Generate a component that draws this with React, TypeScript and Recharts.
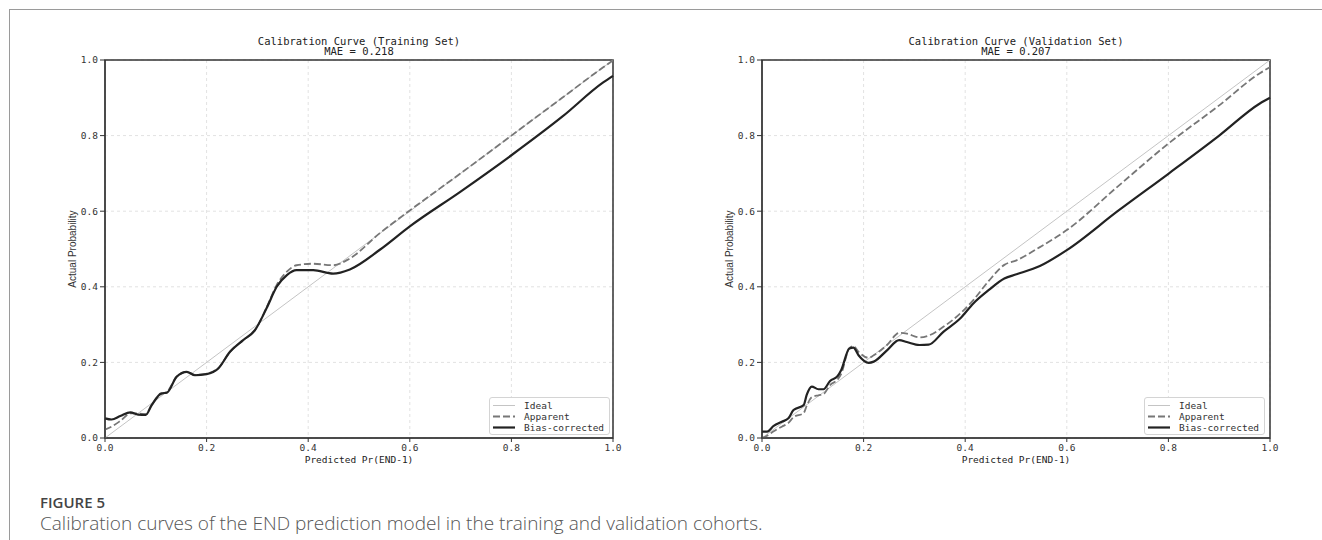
import React from "react";

import { CartesianGrid, Legend, Line, LineChart, ReferenceArea, XAxis, YAxis } from "recharts";

// axis ticks shared by both panels
const ticks = [0, 0.2, 0.4, 0.6, 0.8, 1.0];

// training set
const trainX = [
  0, 0.013, 0.03, 0.05, 0.065, 0.08, 0.092, 0.111, 0.122, 0.141, 0.161, 0.177, 0.2, 0.223, 0.246, 0.272,
  0.295, 0.318, 0.338, 0.358, 0.377, 0.41, 0.449, 0.482, 0.541, 0.6, 0.7, 0.8, 0.9, 0.98, 1.0,
];
const trainApparent = [
  0.022, 0.03, 0.045, 0.065, 0.065, 0.063, 0.088, 0.116, 0.122, 0.162, 0.175, 0.167, 0.17, 0.185, 0.228,
  0.259, 0.285, 0.345, 0.405, 0.44, 0.457, 0.461, 0.457, 0.475, 0.542, 0.602, 0.7, 0.8, 0.9, 0.98, 0.999,
];
const trainCorrected = [
  0.052, 0.049, 0.058, 0.068, 0.062, 0.061, 0.087, 0.118, 0.12, 0.162, 0.175, 0.166, 0.169, 0.184, 0.228,
  0.259, 0.285, 0.343, 0.4, 0.431, 0.444, 0.444, 0.435, 0.446, 0.498, 0.56, 0.652, 0.748, 0.85, 0.94, 0.958,
];

// validation set
const valX = [
  0, 0.01, 0.023, 0.039, 0.052, 0.062, 0.082, 0.088, 0.098, 0.111, 0.121, 0.134, 0.149, 0.156, 0.172, 0.18,
  0.19, 0.21, 0.22, 0.246, 0.27, 0.285, 0.31, 0.328, 0.357, 0.39, 0.416, 0.446, 0.477, 0.501, 0.547, 0.6,
  0.7, 0.8, 0.9, 0.98, 1.0,
];
const valApparent = [
  0.0, 0.006, 0.018, 0.03, 0.04, 0.055, 0.066, 0.085, 0.108, 0.113, 0.116, 0.14, 0.155, 0.17, 0.238, 0.243,
  0.228, 0.212, 0.219, 0.246, 0.278, 0.276, 0.266, 0.271, 0.294, 0.329, 0.365, 0.415, 0.458, 0.47, 0.505,
  0.55, 0.665, 0.779, 0.88, 0.965, 0.981,
];
const valCorrected = [
  0.017, 0.017, 0.032, 0.043, 0.052, 0.074, 0.087, 0.114, 0.136, 0.129, 0.129, 0.151, 0.164, 0.18, 0.237,
  0.239, 0.219, 0.199, 0.202, 0.232, 0.259, 0.254, 0.246, 0.247, 0.281, 0.316, 0.356, 0.391, 0.422, 0.433,
  0.455, 0.497, 0.6, 0.699, 0.8, 0.885, 0.9,
];

const idealRows = [
  { x: 0, ideal: 0 },
  { x: 1, ideal: 1 },
];

const legendItems = [
  { name: "Ideal", color: "#c4c4c4", width: 1, dash: undefined },
  { name: "Apparent", color: "#777", width: 1.8, dash: "7 3" },
  { name: "Bias-corrected", color: "#222", width: 2.2, dash: undefined },
];

const MONO = "'DejaVu Sans Mono', 'Liberation Mono', monospace";
const tickStyle = { fontSize: 9.5, fontFamily: MONO, fill: "#333" };

const LegendBox = () => (
  <div
    style={{
      width: 121,
      height: 38,
      boxSizing: "border-box",
      border: "1px solid #d4d4d4",
      borderRadius: 3,
      background: "#fff",
      paddingTop: 2,
    }}
  >
    {legendItems.map((it) => (
      <div key={it.name} style={{ display: "flex", alignItems: "center", height: 11 }}>
        <svg width={34} height={11}>
          <line x1={3} x2={25} y1={5.5} y2={5.5} stroke={it.color} strokeWidth={it.width} strokeDasharray={it.dash} />
        </svg>
        <span style={{ fontFamily: MONO, fontSize: 9.5, color: "#333", lineHeight: "11px" }}>{it.name}</span>
      </div>
    ))}
  </div>
);

type PanelProps = {
  left: number;
  title: string;
  mae: string;
  xs: number[];
  apparent: number[];
  corrected: number[];
  marginLeft: number;
  marginRight: number;
  legendLeft: number;
};

const Panel = ({ left, title, mae, xs, apparent, corrected, marginLeft, marginRight, legendLeft }: PanelProps) => {
  const rows = xs.map((x, i) => ({ x, apparent: apparent[i], corrected: corrected[i] }));
  const center = marginLeft + 30 + (661 - marginLeft - 30 - marginRight) / 2;
  return (
    <div style={{ position: "absolute", left, top: 0, width: 661, height: 480 }}>
      <div
        style={{
          position: "absolute",
          left: center - 150,
          width: 300,
          top: 35.5,
          textAlign: "center",
          fontFamily: MONO,
          fontSize: 10.5,
          lineHeight: "10.5px",
          color: "#222",
        }}
      >
        <div>{title}</div>
        <div>{mae}</div>
      </div>
      <LineChart
        width={661}
        height={480}
        data={rows}
        margin={{ top: 60, right: marginRight, bottom: 12, left: marginLeft }}
      >
        <CartesianGrid stroke="#e2e2e2" strokeDasharray="3 3" />
        <XAxis
          dataKey="x"
          type="number"
          domain={[0, 1]}
          ticks={ticks}
          tickFormatter={(v: number) => v.toFixed(1)}
          height={30}
          tickSize={4}
          tickMargin={2}
          tick={tickStyle}
          stroke="#333"
          label={{
            value: "Predicted Pr(END-1)",
            position: "insideBottom",
            offset: 5,
            style: { fontFamily: MONO, fontSize: 9.5, fill: "#222" },
          }}
        />
        <YAxis
          type="number"
          domain={[0, 1]}
          ticks={ticks}
          tickFormatter={(v: number) => v.toFixed(1)}
          width={30}
          tickSize={5}
          tickMargin={2}
          tick={tickStyle}
          stroke="#333"
          label={{
            value: "Actual Probability",
            angle: -90,
            position: "insideLeft",
            offset: -3,
            style: { textAnchor: "middle", fontFamily: "'Liberation Sans', Arial, sans-serif", fontSize: 10, fill: "#333" },
          }}
        />
        <Line
          data={idealRows}
          dataKey="ideal"
          name="Ideal"
          type="linear"
          stroke="#c4c4c4"
          strokeWidth={1}
          dot={false}
          isAnimationActive={false}
        />
        <Line
          dataKey="apparent"
          name="Apparent"
          type="monotone"
          stroke="#777"
          strokeWidth={1.8}
          strokeDasharray="7 3"
          dot={false}
          isAnimationActive={false}
        />
        <Line
          dataKey="corrected"
          name="Bias-corrected"
          type="monotone"
          stroke="#222"
          strokeWidth={2.2}
          dot={false}
          isAnimationActive={false}
        />
        <ReferenceArea x1={0} x2={1} y1={0} y2={1} fill="none" stroke="#333" strokeWidth={1.5} ifOverflow="visible" />
        <Legend
          layout="vertical"
          align="center"
          verticalAlign="middle"
          wrapperStyle={{ left: legendLeft, top: 397, width: 121, height: 38 }}
          content={() => <LegendBox />}
        />
      </LineChart>
    </div>
  );
};

const App = () => {
  return (
    <div
      style={{
        position: "absolute",
        left: 0,
        top: 0,
        width: 1322,
        height: 540,
        overflow: "hidden",
        background: "#fff",
      }}
    >
      <div
        style={{
          position: "absolute",
          left: 9,
          top: 8.5,
          width: 1400,
          height: 600,
          borderLeft: "1.5px solid #9a9a9a",
          borderTop: "1.5px solid #9a9a9a",
        }}
      />
      <Panel
        left={0}
        title="Calibration Curve (Training Set)"
        mae="MAE = 0.218"
        xs={trainX}
        apparent={trainApparent}
        corrected={trainCorrected}
        marginLeft={75}
        marginRight={48}
        legendLeft={489}
      />
      <Panel
        left={661}
        title="Calibration Curve (Validation Set)"
        mae="MAE = 0.207"
        xs={valX}
        apparent={valApparent}
        corrected={valCorrected}
        marginLeft={71}
        marginRight={52}
        legendLeft={483}
      />
      <div
        style={{
          position: "absolute",
          left: 40,
          top: 492,
          fontFamily: "'Open Sans', sans-serif",
          fontWeight: 600,
          fontSize: 15,
          color: "#444",
          lineHeight: "20px",
        }}
      >
        FIGURE 5
      </div>
      <div
        style={{
          position: "absolute",
          left: 40,
          top: 512,
          fontFamily: "'Open Sans', sans-serif",
          fontSize: 19,
          fontWeight: 300,
          color: "#555",
          lineHeight: "23px",
        }}
      >
        Calibration curves of the END prediction model in the training and validation cohorts.
      </div>
    </div>
  );
};

export default App;
